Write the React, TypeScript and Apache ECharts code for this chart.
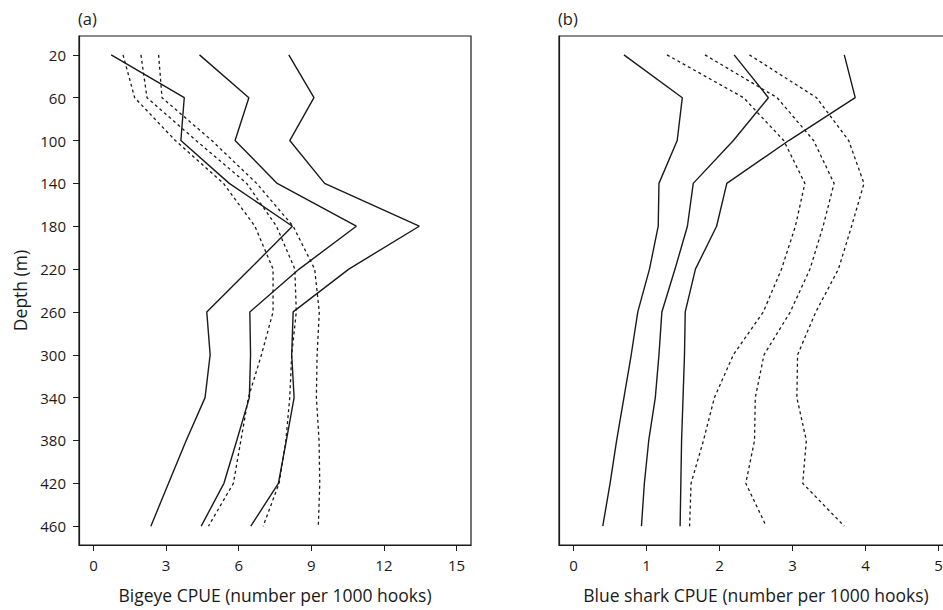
import React, { useEffect, useRef } from "react";
import * as echarts from "echarts";

const depths = [20, 60, 100, 140, 180, 220, 260, 300, 340, 380, 420, 460];
const depthTicks = [20, 60, 100, 140, 180, 220, 260, 300, 340, 380, 420, 460];
const bigeyeTicks = [0, 3, 6, 9, 12, 15];
const blueTicks = [0, 1, 2, 3, 4, 5];

// Bigeye CPUE (solid lines)
const bigeyeSolidA = [0.73, 3.75, 3.61, 5.61, 8.22, 6.46, 4.68, 4.82, 4.61, 3.83, 3.1, 2.37];
const bigeyeSolidB = [4.38, 6.42, 5.85, 7.59, 10.86, 8.5, 6.46, 6.49, 6.44, 5.92, 5.39, 4.45];
const bigeyeSolidC = [8.07, 9.11, 8.11, 9.55, 13.46, 10.55, 8.25, 8.19, 8.29, 7.97, 7.64, 6.5];
// Bigeye CPUE (dashed lines)
const bigeyeDashA = [1.22, 1.7, 3.38, 5.37, 6.67, 7.42, 7.42, 6.94, 6.4, 6.09, 5.78, 4.75];
const bigeyeDashB = [1.96, 2.21, 4.24, 6.33, 7.56, 8.32, 8.38, 8.19, 8.11, 7.95, 7.67, 7.01];
const bigeyeDashC = [2.69, 2.83, 4.89, 6.74, 8.25, 9.14, 9.33, 9.24, 9.21, 9.32, 9.35, 9.29];

// Blue shark CPUE (solid lines)
const blueSolidA = [0.69, 1.49, 1.42, 1.17, 1.16, 1.04, 0.88, 0.79, 0.69, 0.59, 0.5, 0.4];
const blueSolidB = [2.2, 2.67, 2.19, 1.64, 1.56, 1.39, 1.21, 1.17, 1.12, 1.03, 0.97, 0.93];
const blueSolidC = [3.71, 3.86, 2.95, 2.1, 1.96, 1.67, 1.53, 1.52, 1.5, 1.48, 1.47, 1.46];
// Blue shark CPUE (dashed lines)
const blueDashA = [1.28, 2.33, 2.88, 3.17, 3.04, 2.85, 2.6, 2.19, 1.93, 1.78, 1.61, 1.59];
const blueDashB = [1.8, 2.79, 3.29, 3.57, 3.42, 3.24, 2.97, 2.61, 2.49, 2.48, 2.36, 2.64];
const blueDashC = [2.41, 3.33, 3.77, 3.98, 3.81, 3.63, 3.32, 3.07, 3.06, 3.19, 3.14, 3.71];

const FONT = "Open Sans";
const INK = "#1a1a1a";

function mk(values: number[], idx: number, dashed: boolean) {
  return {
    type: "line",
    xAxisIndex: idx,
    yAxisIndex: idx,
    data: values.map((v, i) => [v, depths[i]]),
    symbol: "none",
    silent: true,
    lineStyle: {
      color: INK,
      width: dashed ? 1.3 : 1.4,
      type: dashed ? [3, 3] : "solid",
    },
  };
}

export default function App() {
  const ref = useRef<HTMLDivElement>(null);
  useEffect(() => {
    if (!ref.current) return;
    const chart = echarts.init(ref.current, undefined, { renderer: "svg" });
    const yBase = {
      type: "value",
      inverse: true,
      min: 2.4,
      max: 477.6,
      splitLine: { show: false },
      axisLine: { show: true, onZero: false, lineStyle: { color: INK, width: 1.2 } },
    };
    const xBase = {
      type: "value",
      splitLine: { show: false },
      nameLocation: "middle",
      nameGap: 41,
      nameTextStyle: { fontFamily: FONT, fontSize: 17.5, color: INK },
      axisLine: { show: true, onZero: false, lineStyle: { color: INK, width: 1.2 } },
      axisTick: { show: true, length: 6, lineStyle: { color: INK } },
      axisLabel: { fontFamily: FONT, fontSize: 15, color: INK, margin: 12 },
    };
    chart.setOption({
      animation: false,
      textStyle: { fontFamily: FONT },
      grid: [
        { left: 79, top: 36, width: 392, height: 509, show: true, borderColor: INK, borderWidth: 1.2, containLabel: false },
        { left: 559, top: 36, width: 394, height: 509, show: true, borderColor: INK, borderWidth: 1.2, containLabel: false },
      ],
      xAxis: [
        {
          ...xBase,
          gridIndex: 0,
          min: -0.6,
          max: 15.6,
          name: "Bigeye CPUE (number per 1000 hooks)",
          axisTick: { ...xBase.axisTick, customValues: bigeyeTicks },
          axisLabel: { ...xBase.axisLabel, customValues: bigeyeTicks },
        },
        {
          ...xBase,
          gridIndex: 1,
          min: -0.2,
          max: 5.2,
          name: "Blue shark CPUE (number per 1000 hooks)",
          axisTick: { ...xBase.axisTick, customValues: blueTicks },
          axisLabel: { ...xBase.axisLabel, customValues: blueTicks },
        },
      ],
      yAxis: [
        {
          ...yBase,
          gridIndex: 0,
          name: "Depth (m)",
          nameLocation: "middle",
          nameGap: 50,
          nameTextStyle: { fontFamily: FONT, fontSize: 17.5, color: INK },
          axisTick: { show: true, length: 6, lineStyle: { color: INK }, customValues: depthTicks },
          axisLabel: { fontFamily: FONT, fontSize: 15, color: INK, margin: 13, customValues: depthTicks },
        },
        {
          ...yBase,
          gridIndex: 1,
          axisTick: { show: false },
          axisLabel: { show: false },
        },
      ],
      graphic: [
        { type: "text", left: 78, top: 10, style: { text: "(a)", fontFamily: FONT, fontSize: 16.5, fill: INK } },
        { type: "text", left: 558, top: 10, style: { text: "(b)", fontFamily: FONT, fontSize: 16.5, fill: INK } },
      ],
      series: [
        mk(bigeyeSolidA, 0, false),
        mk(bigeyeSolidB, 0, false),
        mk(bigeyeSolidC, 0, false),
        mk(bigeyeDashA, 0, true),
        mk(bigeyeDashB, 0, true),
        mk(bigeyeDashC, 0, true),
        mk(blueSolidA, 1, false),
        mk(blueSolidB, 1, false),
        mk(blueSolidC, 1, false),
        mk(blueDashA, 1, true),
        mk(blueDashB, 1, true),
        mk(blueDashC, 1, true),
      ],
    });
    return () => chart.dispose();
  }, []);
  return (
    <div
      ref={ref}
      style={{ position: "fixed", left: 0, top: 0, width: 960, height: 610, background: "#fff" }}
    />
  );
}
